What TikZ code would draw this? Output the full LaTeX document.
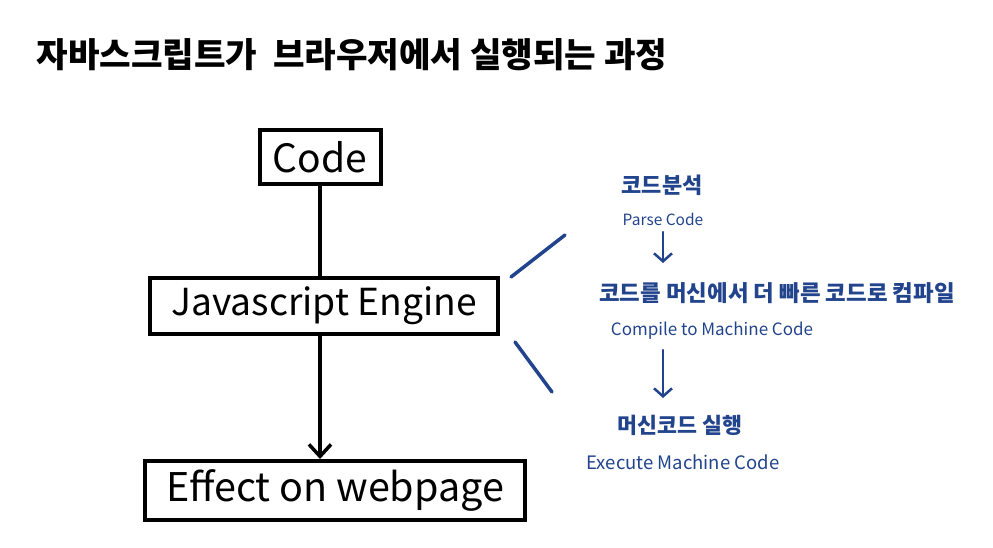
\documentclass[tikz,border=0pt]{standalone}
\usepackage{fontspec}
\setmainfont{Noto Sans CJK KR}
\usetikzlibrary{arrows.meta}
\definecolor{inkblue}{RGB}{34,68,140}
\tikzset{
  box/.style={draw=black, line width=4pt, inner sep=0pt, align=center},
  link/.style={draw=black, line width=3.5pt},
  bluetext/.style={text=inkblue, inner sep=0pt},
  bluestroke/.style={draw=inkblue, line width=3.5pt, line cap=round},
  kr/.style={font=\fontsize{22}{26}\selectfont\bfseries},
}
\begin{document}
\begin{tikzpicture}[x=1pt,y=-1pt]
\useasboundingbox (0,0) rectangle (993,548);
% title
\node[inner sep=0pt, font=\fontsize{34.3}{38}\selectfont\bfseries] (title) at (352,55) {자바스크립트가\ \ 브라우저에서 실행되는 과정};
% main boxes
\node[box, minimum width=121pt, minimum height=54pt, font=\fontsize{39}{44}\selectfont] (code) at (320,157) {Code};
\node[box, font=\fontsize{37.2}{42}\selectfont, minimum width=348pt, minimum height=56pt] (js) at (324,306) {Javascript Engine};
\node[box, font=\fontsize{39.5}{44}\selectfont, minimum width=380pt, minimum height=59pt] (effect) at (335,490.5) {Effect on webpage};
\draw[link] (code.south) -- (code.south |- js.north);
\draw[link, -{Straight Barb[length=12pt,width=22pt]}] (code.south |- js.south) -- (code.south |- effect.north);
% blue side notes
\coordinate (l1a) at (511,277);
\coordinate (l1b) at (565,235);
\coordinate (l2a) at (515,342);
\coordinate (l2b) at (552,392);
\draw[bluestroke] (l1a) -- (l1b);
\draw[bluestroke] (l2a) -- (l2b);
\node[bluetext, font=\fontsize{22}{26}\selectfont\bfseries] (k1) at (662,185) {코드분석};
\node[bluetext, font=\fontsize{15.5}{18}\selectfont] (e1) at (663,219) {Parse Code};
\node[bluetext, font=\fontsize{22.4}{26}\selectfont\bfseries] (k2) at (777,293) {코드를 머신에서 더 빠른 코드로 컴파일};
\node[bluetext, font=\fontsize{17}{20}\selectfont] (e2) at (712,331) {Compile to Machine Code};
\node[bluetext, font=\fontsize{21.7}{26}\selectfont\bfseries] (k3) at (680,425) {머신코드 실행};
\node[bluetext, font=\fontsize{18.5}{21}\selectfont] (e3) at (683,462) {Execute Machine Code};
\coordinate (a1s) at (663,232);
\coordinate (a1e) at (663,263);
\coordinate (a2s) at (663,350);
\coordinate (a2e) at (663,398);
\draw[bluestroke, line width=2.5pt, -{Straight Barb[length=8pt,width=18pt]}] (a1s) -- (a1e);
\draw[bluestroke, line width=2.5pt, -{Straight Barb[length=8pt,width=18pt]}] (a2s) -- (a2e);
\end{tikzpicture}
\end{document}
